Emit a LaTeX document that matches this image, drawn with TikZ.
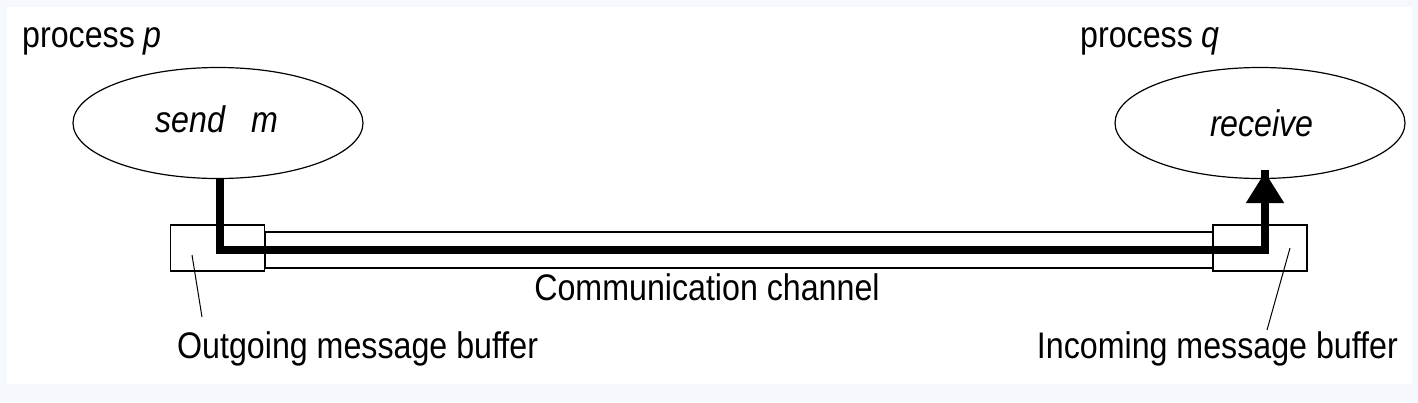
\documentclass[tikz,border=0pt]{standalone}
\usepackage{fontspec}
\setmainfont[FakeStretch=0.87]{Liberation Sans}
\usetikzlibrary{shapes.geometric,arrows.meta}
\definecolor{frame}{HTML}{F5F8FD}
\tikzset{
  proc/.style={draw, ellipse, line width=1.2pt, minimum width=290pt, minimum height=111pt, inner sep=0pt},
  buf/.style={draw, rectangle, line width=1.6pt, minimum width=94pt, minimum height=46pt, inner sep=0pt},
  chan/.style={draw, rectangle, line width=1.8pt, inner sep=0pt},
  txt/.style={font=\fontsize{37pt}{40pt}\selectfont, inner sep=0pt},
  flow/.style={line width=8pt},
  leader/.style={line width=1pt},
}
\begin{document}
\begin{tikzpicture}[x=1pt,y=-1pt]
  \fill[frame] (0,0) rectangle (1418,402);
  \fill[white] (7,7) rectangle (1412,384);
  \useasboundingbox (0,0) rectangle (1418,402);

  \node[txt, anchor=base west] (pp) at (22,47) {process \textit{p}};
  \node[txt, anchor=base west] (pq) at (1080,47) {process \textit{q}};

  \node[proc] (send) at (218,123) {};
  \node[proc] (recv) at (1260,123) {};
  \node[txt, anchor=base] (sendt) at (217,132) {\textit{send\hspace{26pt}m}};
  \node[txt, anchor=base] (recvt) at (1262,136) {\textit{receive}};

  \node[chan, minimum width=948pt, minimum height=36pt] (channel) at (739,250) {};
  \node[buf] (outb) at (217.5,248) {};
  \node[buf] (inb) at (1260,248) {};

  \coordinate (c1) at (220,250);
  \coordinate (c2) at (1265,250);
  \coordinate (tip) at (1265,172);
  \draw[flow, line join=miter] (send.south -| c1) -- (c1) -- (c2) -- ([yshift=2pt]tip -| c2);
  \draw[flow, -{Triangle[width=36pt,length=31pt]}, line join=miter] (c2) -- (tip);

  \node[txt, anchor=base] (chlab) at (707,300) {Communication channel};
  \node[txt, anchor=base west] (outl) at (177,358) {Outgoing message buffer};
  \node[txt, anchor=base east] (inl) at (1398,358) {Incoming message buffer};

  \coordinate (lo) at (192,255);
  \coordinate (li) at (1290,248);
  \draw[leader] (lo) -- (202,317);
  \draw[leader] (li) -- (1267,330);
\end{tikzpicture}
\end{document}
